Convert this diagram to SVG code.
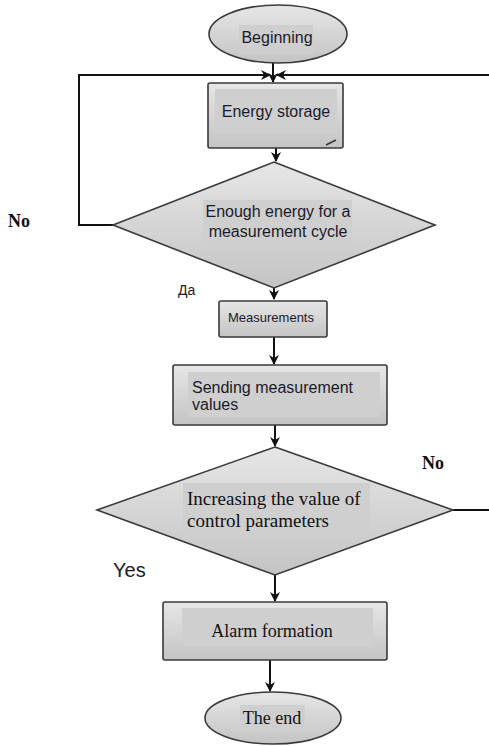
<svg xmlns="http://www.w3.org/2000/svg" width="489" height="746" viewBox="0 0 489 746">
<style>
.shape{fill:url(#g);stroke:#3a3a3a;stroke-width:1.6}
.hl{fill:#cfcfcf}
.sans{font-family:"Liberation Sans",Arial,sans-serif;fill:#1a1a2a}
.serif{font-family:"Liberation Serif","Times New Roman",serif;fill:#111}
.conn{fill:none;stroke:#111;stroke-width:2}
</style>
<defs>
<linearGradient id="g" x1="0" y1="0" x2="0" y2="1">
<stop offset="0" stop-color="#e6e6e6"/>
<stop offset="1" stop-color="#c4c4c4"/>
</linearGradient>
<marker id="a" markerWidth="10" markerHeight="10" refX="9" refY="5" orient="auto" markerUnits="userSpaceOnUse">
<path d="M0,0 L10,5 L0,10 L3,5 z" fill="#111"/>
</marker>
</defs>
<rect width="489" height="746" fill="#fff"/>
<g id="connectors">
<path class="conn" d="M273,63 V82" marker-end="url(#a)"/>
<path class="conn" d="M113,225 H79 V75 H270" marker-end="url(#a)"/>
<path class="conn" d="M489,75 H277" marker-end="url(#a)"/>
<path class="conn" d="M276,148 V161" marker-end="url(#a)"/>
<path class="conn" d="M274,288 V299" marker-end="url(#a)"/>
<path class="conn" d="M274,337 V364" marker-end="url(#a)"/>
<path class="conn" d="M275,425 V446" marker-end="url(#a)"/>
<path class="conn" d="M453,510 H489"/>
<path class="conn" d="M275,575 V601" marker-end="url(#a)"/>
<path class="conn" d="M270,660 V691" marker-end="url(#a)"/>
</g>
<g id="beginning">
<ellipse class="shape" cx="278" cy="34" rx="69" ry="29"/>
<rect class="hl" x="239" y="25" width="74" height="29"/>
<text class="sans" x="277" y="43" font-size="16" text-anchor="middle">Beginning</text>
</g>
<g id="energy-storage">
<rect class="shape" x="208" y="83" width="135" height="65" rx="2"/>
<rect class="hl" x="215" y="89" width="122" height="44"/>
<text class="sans" x="276" y="117" font-size="16" text-anchor="middle">Energy storage</text>
<path d="M326,145 L336,140" stroke="#333" stroke-width="1.5"/>
</g>
<g id="enough-energy">
<polygon class="shape" points="274,162 435,225 274,288 113,225"/>
<rect class="hl" x="203" y="200" width="149" height="43"/>
<text class="sans" x="278" y="217" font-size="16" text-anchor="middle">Enough energy for a</text>
<text class="sans" x="278" y="237" font-size="16" text-anchor="middle">measurement cycle</text>
</g>
<g id="measurements">
<rect class="shape" x="219" y="301" width="108" height="36" rx="2"/>
<text class="sans" x="271" y="322" font-size="13" text-anchor="middle">Measurements</text>
</g>
<g id="sending">
<rect class="shape" x="173" y="365" width="214" height="60" rx="2"/>
<rect class="hl" x="188" y="372" width="192" height="45"/>
<text class="sans" x="192" y="393" font-size="16">Sending measurement</text>
<text class="sans" x="192" y="410" font-size="16">values</text>
</g>
<g id="increasing">
<polygon class="shape" points="275,447 453,510 275,575 97,510"/>
<rect class="hl" x="183" y="483" width="187" height="50"/>
<text class="serif" x="187" y="505" font-size="19">Increasing the value of</text>
<text class="serif" x="187" y="527" font-size="19">control parameters</text>
</g>
<g id="alarm">
<rect class="shape" x="163" y="602" width="224" height="58" rx="2"/>
<rect class="hl" x="182" y="608" width="191" height="39"/>
<text class="serif" x="272" y="637" font-size="18" text-anchor="middle">Alarm formation</text>
</g>
<g id="the-end">
<ellipse class="shape" cx="273" cy="718" rx="68" ry="26"/>
<rect class="hl" x="240" y="705" width="65" height="23"/>
<text class="serif" x="272" y="724" font-size="18" text-anchor="middle">The end</text>
</g>
<g id="labels">
<text class="serif" x="8" y="227" font-size="18" font-weight="bold">No</text>
<text class="serif" x="422" y="469" font-size="18" font-weight="bold">No</text>
<text class="sans" x="178" y="295" font-size="14">Да</text>
<text class="sans" x="113" y="577" font-size="20">Yes</text>
</g>
</svg>
